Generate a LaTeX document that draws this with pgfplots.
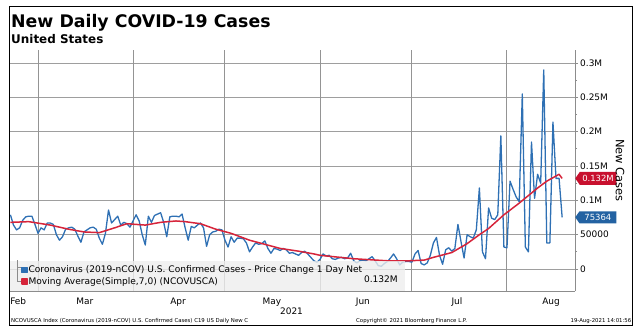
\documentclass[border=0pt]{standalone}
\usepackage{pgfplots}
\pgfplotsset{compat=1.18}
\usepackage{pgfplotstable}
\usepackage{fontspec}
\setmainfont{DejaVu Sans}
\usetikzlibrary{shapes.symbols}
\definecolor{blueline}{RGB}{46,112,180}
\definecolor{redline}{RGB}{214,36,58}
\definecolor{tagred}{RGB}{200,16,46}
\definecolor{tagblue}{RGB}{35,98,162}
\definecolor{gridc}{RGB}{140,140,140}

\pgfplotstableread{
d v
-9 79000
-8 64000
-7 57000
-6 60000
-5 71000
-4 76000
-3 77000
-2 77000
-1 65000
0 52000
1 60000
2 57000
3 67000
4 67000
5 65000
6 50000
7 42000
8 47000
9 58000
10 60000
11 61000
12 58000
13 48000
14 39000
15 54000
16 57000
17 60000
18 61000
19 58000
20 45000
21 36000
22 52000
23 86000
24 67000
25 72000
26 77000
27 64000
28 68000
29 66000
30 61000
31 70000
32 79000
33 70000
34 50000
35 35000
36 77000
37 68000
38 78000
39 80000
40 82000
41 68000
42 47000
43 76000
44 77000
45 77000
46 76000
47 80000
48 60000
49 42000
50 62000
51 60000
52 64000
53 67000
54 60000
55 33000
56 50000
57 54000
58 55000
59 58000
60 57000
61 42000
62 32000
63 47000
64 39000
65 45000
66 45000
67 44000
68 38000
69 25000
70 32000
71 38000
72 36000
73 37000
74 41000
75 30000
76 23000
77 30000
78 29000
79 27000
80 30000
81 28000
82 23000
83 24000
84 22000
85 20000
86 24000
87 26000
88 22000
89 17000
90 12000
91 10000
92 14000
93 22000
94 19000
95 20000
96 15000
97 14000
98 16000
99 17000
100 15000
101 16000
102 23000
103 12000
104 9000
105 12000
106 13000
107 12000
108 15000
109 18000
110 12000
111 5000
112 4000
113 8000
114 11000
115 16000
116 22000
117 15000
118 6000
119 10000
120 11000
121 11000
122 10000
123 22000
124 27000
125 8000
126 6000
127 9000
128 20000
129 38000
130 46000
131 20000
132 7000
133 28000
134 31000
135 26000
136 30000
137 65000
138 40000
139 16000
140 50000
141 47000
142 45000
143 57000
144 118000
145 25000
146 15000
147 89000
148 74000
149 72000
150 79000
151 194000
152 32000
153 31000
154 128000
155 116000
156 105000
157 98000
158 255000
159 32000
160 25000
161 185000
162 103000
163 138000
164 125000
165 290000
166 38000
167 38000
168 214000
169 132000
170 132000
171 75364
}\dailycases

\pgfplotstableread{
d v
-9 68000
-3 69000
4 64000
10 58000
15 54000
20 53000
25 60000
29 66000
35 64000
40 68000
45 70000
48 69000
53 66000
58 58000
63 52000
69 42000
74 36000
79 30000
85 26000
90 22000
92 20000
103 15000
114 12000
121 12000
126 13000
129 17000
135 24000
140 37000
144 50000
147 59000
152 79000
157 96000
163 118000
166 128000
170 138000
171 132000
}\movavg

\begin{document}
\begin{tikzpicture}[x=1bp,y=1bp]
\useasboundingbox (0,0) rectangle (638,332);
\begin{axis}[
  at={(10bp,41bp)}, anchor=south west,
  scale only axis, width=565bp, height=241bp,
  xmin=-9.14, xmax=175.2, ymin=-32000, ymax=319000,
  axis x line*=bottom, axis y line*=right,
  axis line style={gridc, line width=0.9bp, -},
  clip mode=individual,
  scaled y ticks=false,
  xtick={-6.46,15.3,45.7,76.3,106,136.7,167.4},
  xticklabels={Feb,Mar,Apr,May,Jun,Jul,Aug},
  xtick style={draw=none},
  xticklabel style={font=\fontsize{9}{9}\selectfont, inner sep=0pt, text height=7bp, text depth=0pt, yshift=-3bp},
  extra x ticks={0,31,61,92,122,153},
  extra x tick labels={},
  extra x tick style={grid=major, major grid style={black!42, line width=1bp}, tick style={draw=none}},
  ytick={0,50000,100000,150000,200000,250000,300000},
  yticklabels={0,50000,0.1M,0.15M,0.2M,0.25M,0.3M},
  minor y tick num=1,
  ymajorgrids,
  major grid style={black!38, line width=0.9bp},
  tick align=outside,
  major tick length=3bp, minor tick length=2bp,
  ytick style={gridc, line width=0.8bp},
  yticklabel style={font=\fontsize{9}{9}\selectfont, anchor=west, inner sep=0pt, xshift=2bp},
  ylabel={New Cases},
  ylabel style={font=\fontsize{11.5}{11.5}\selectfont, at={(axis description cs:1.0796,0.5)}, anchor=center, rotate=180},
  legend style={at={(axis description cs:0.0195,0.02)}, anchor=south west, draw=none, fill=none,
    inner sep=0pt, outer sep=0pt, font=\fontsize{9.1}{9.1}\selectfont, row sep=1.8bp,
    nodes={inner sep=0.6bp}, cells={anchor=west}},
  legend image code/.code={\fill[#1] (0bp,-2.6bp) rectangle (5.5bp,2.6bp);},
]
\addplot[blueline, line width=1.3bp, line join=round] table[x=d,y=v] {\dailycases};
\addlegendentry{Coronavirus (2019-nCOV) U.S. Confirmed Cases - Price Change 1 Day Net}
\addplot[redline, line width=1.5bp, line join=round] table[x=d,y=v] {\movavg};
\addlegendentry{Moving Average(Simple,7,0) (NCOVUSCA)}
\fill[black!7, fill opacity=0.8] (rel axis cs:0,0) rectangle (rel axis cs:0.699,0.1245);
\node[anchor=east, font=\fontsize{9.1}{9.1}\selectfont, inner sep=0pt] at (rel axis cs:0.6867,0.0477) {0.132M};
\node[signal, signal to=west, signal pointer angle=110, fill=tagred, text=white,
  font=\fontsize{8.5}{8.5}\selectfont, inner sep=1bp, minimum height=13bp, minimum width=41bp, anchor=west]
  at (axis cs:175.2,132000) {0.132M};
\node[signal, signal to=west, signal pointer angle=110, fill=tagblue, text=white,
  font=\fontsize{8.5}{8.5}\selectfont, inner sep=1bp, minimum height=12bp, minimum width=41bp, anchor=west]
  at (axis cs:175.2,75364) {75364};
\end{axis}
\draw[black!45, line width=0.5bp] (17,72) -- (17,51) -- (21,51);
\draw[black!45, line width=0.5bp] (17,65) -- (21,65);
\node[anchor=base west, inner sep=0pt, font=\bfseries\fontsize{17.4}{17.4}\selectfont] at (11,304.3) {New Daily COVID-19 Cases};
\node[anchor=base west, inner sep=0pt, font=\bfseries\fontsize{12}{12}\selectfont] at (11,288.7) {United States};
\node[inner sep=0pt, font=\fontsize{9}{9}\selectfont] at (291.5,21) {2021};
\node[anchor=west, inner sep=0pt, font=\fontsize{5.4}{5.4}\selectfont] at (11,11) {NCOVUSCA Index (Coronavirus (2019-nCOV) U.S. Confirmed Cases) C19 US Daily New C};
\node[anchor=west, inner sep=0pt, font=\fontsize{5.4}{5.4}\selectfont] at (356,11) {Copyright\textcopyright\ 2021 Bloomberg Finance L.P.};
\node[anchor=east, inner sep=0pt, font=\fontsize{5.4}{5.4}\selectfont] at (631.5,11) {19-Aug-2021 14:01:56};
\draw[black, line width=1.3bp] (9.5,6.5) rectangle (632.5,325.5);
\end{tikzpicture}
\end{document}
